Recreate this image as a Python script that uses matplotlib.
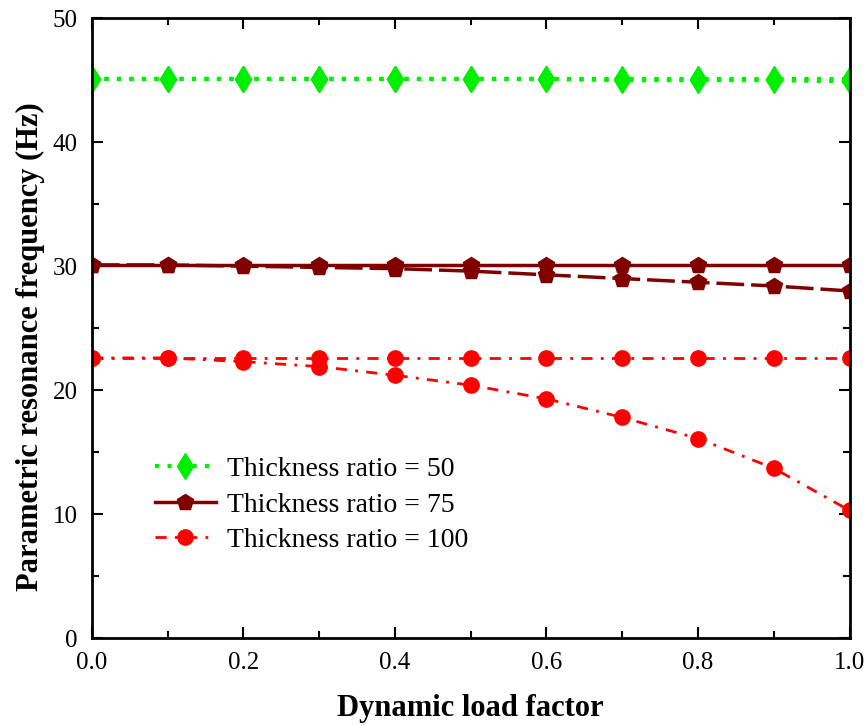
import matplotlib.pyplot as plt
from matplotlib.ticker import MultipleLocator

# Dynamic load factor
x = [0.0, 0.1, 0.2, 0.3, 0.4, 0.5, 0.6, 0.7, 0.8, 0.9, 1.0]

# Thickness ratio = 50 (upper / lower branch)
t50_up = [45.1, 45.1, 45.1, 45.1, 45.1, 45.1, 45.1, 45.1, 45.1, 45.1, 45.1]
t50_lo = [45.1, 45.1, 45.1, 45.1, 45.1, 45.1, 45.1, 45.0, 45.0, 45.0, 44.9]

# Thickness ratio = 75
t75_up = [30.1, 30.1, 30.1, 30.1, 30.1, 30.1, 30.1, 30.1, 30.1, 30.1, 30.1]
t75_lo = [30.1, 30.1, 30.0, 29.9, 29.8, 29.6, 29.3, 29.0, 28.7, 28.4, 28.0]

# Thickness ratio = 100
t100_up = [22.6, 22.6, 22.6, 22.6, 22.6, 22.6, 22.6, 22.6, 22.6, 22.6, 22.6]
t100_lo = [22.6, 22.6, 22.3, 21.9, 21.2, 20.4, 19.3, 17.8, 16.1, 13.7, 10.3]

plt.rcParams['font.family'] = ['Liberation Serif', 'DejaVu Serif']

fig = plt.figure(figsize=(8.66, 7.26), dpi=100)
ax = fig.add_axes([0.106, 0.121, 0.875, 0.854])

green = '#00ee00'
dark = '#800000'
red = '#ff0000'

# thickness ratio 50
ax.plot(x, t50_up, color=green, ls=(0, (1, 2)), lw=3, marker='d', ms=13,
        label='Thickness ratio = 50')
ax.plot(x, t50_lo, color=green, ls=(0, (1, 2)), lw=3, marker='d', ms=13)

# thickness ratio 75
ax.plot(x, t75_up, color=dark, ls='-', lw=2.5, marker='p', ms=12,
        label='Thickness ratio = 75')
ax.plot(x, t75_lo, color=dark, ls=(0, (8, 2)), lw=2.5, marker='p', ms=12)

# thickness ratio 100
ax.plot(x, t100_up, color=red, ls=(0, (4, 3, 1, 3)), lw=2, marker='o', ms=11,
        label='Thickness ratio = 100')
ax.plot(x, t100_lo, color=red, ls=(0, (4, 3, 1, 3)), lw=2, marker='o', ms=11)

ax.set_xlim(0, 1)
ax.set_ylim(0, 50)
ax.xaxis.set_major_locator(MultipleLocator(0.2))
ax.xaxis.set_minor_locator(MultipleLocator(0.1))
ax.yaxis.set_major_locator(MultipleLocator(10))
ax.yaxis.set_minor_locator(MultipleLocator(5))
ax.xaxis.set_major_formatter(plt.FuncFormatter(lambda v, p: f'{v:.1f}'))

ax.tick_params(which='both', direction='in', top=True, right=True, width=1.5, labelsize=18)
ax.tick_params(which='major', length=8, pad=10)
ax.tick_params(which='minor', length=5)
for s in ax.spines.values():
    s.set_linewidth(2)

ax.set_xlabel('Dynamic load factor', fontsize=22, fontweight='bold')
ax.set_ylabel('Parametric resonance frequency (Hz)', fontsize=22, fontweight='bold')
ax.xaxis.set_label_coords(0.5, -0.09)
ax.yaxis.set_label_coords(-0.062, 0.47)

ax.legend(loc='lower left', bbox_to_anchor=(0.05, 0.097), frameon=False, fontsize=20,
          handlelength=2.2, handletextpad=0.4, labelspacing=0.36)

fig.savefig('out.png', dpi=100)
